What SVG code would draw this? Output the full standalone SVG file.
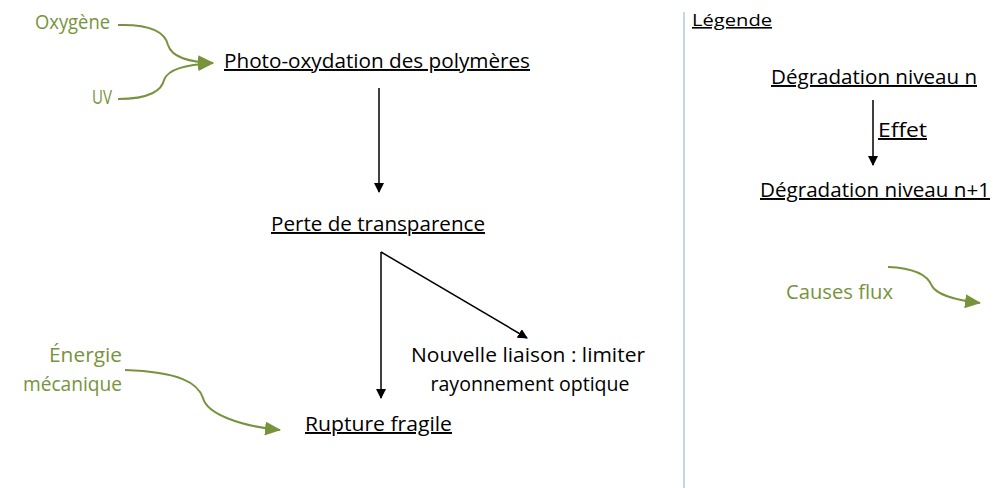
<svg xmlns="http://www.w3.org/2000/svg" width="1001" height="488" viewBox="0 0 1001 488">
<style>
text{font-family:"Open Sans","Liberation Sans",sans-serif;font-size:19.5px;}
.n{fill:#000;text-decoration:underline;}
.g{fill:#77933c;}
.p{fill:#000;}
.k{stroke:#000;stroke-width:1.5;fill:none;marker-end:url(#ak);}
.c{stroke:#77933c;stroke-width:2;fill:none;marker-end:url(#ag);}
</style>
<defs>
<marker id="ak" markerWidth="10" markerHeight="10" refX="9" refY="5" orient="auto" markerUnits="userSpaceOnUse"><path d="M0,0 L10,5 L0,10 Z" fill="#000"/></marker>
<marker id="ag" markerWidth="16" markerHeight="14" refX="15" refY="7" orient="auto" markerUnits="userSpaceOnUse"><path d="M0,0 L16,7 L0,14 Z" fill="#77933c"/></marker>
</defs>
<rect width="1001" height="488" fill="#fff"/>
<line x1="684" y1="12" x2="684" y2="488" stroke="#c6d6ea" stroke-width="2"/>
<g id="connectors">
<path class="c" d="M118,25 C150,24 165,32 168,45 C172,58 190,62 213,63"/>
<path class="c" d="M118,99 C150,99 162,90 164,80 C168,69 185,65 213,63"/>
<line class="k" x1="379" y1="88" x2="379" y2="192"/>
<line class="k" x1="381" y1="252" x2="381" y2="398"/>
<line class="k" x1="381" y1="252" x2="527" y2="338"/>
<path class="c" d="M125,370 C180,372 198,383 203,398 C207,414 240,426 280,430"/>
<line class="k" x1="873" y1="100" x2="873" y2="165"/>
<path class="c" d="M888,267 C915,268 928,276 932,286 C936,294 955,300 980,303"/>
</g>
<g id="oxygene"><text class="g" x="110" y="29" text-anchor="end" textLength="75" lengthAdjust="spacingAndGlyphs">Oxygène</text></g>
<g id="uv"><text class="g" x="112" y="104" text-anchor="end" textLength="20" lengthAdjust="spacingAndGlyphs">UV</text></g>
<g id="photo"><text class="n" x="224" y="68" textLength="306" lengthAdjust="spacingAndGlyphs">Photo-oxydation des polymères</text></g>
<g id="perte"><text class="n" x="271" y="231" textLength="214" lengthAdjust="spacingAndGlyphs">Perte de transparence</text></g>
<g id="nouvelle"><text class="p" x="528" y="362" text-anchor="middle" textLength="234" lengthAdjust="spacingAndGlyphs">Nouvelle liaison : limiter</text><text class="p" x="530" y="391" text-anchor="middle" textLength="199" lengthAdjust="spacingAndGlyphs">rayonnement optique</text></g>
<g id="rupture"><text class="n" x="305" y="431" textLength="147" lengthAdjust="spacingAndGlyphs">Rupture fragile</text></g>
<g id="energie"><text class="g" x="122" y="362" text-anchor="end" textLength="73" lengthAdjust="spacingAndGlyphs">Énergie</text><text class="g" x="122" y="391" text-anchor="end" textLength="99" lengthAdjust="spacingAndGlyphs">mécanique</text></g>
<g id="legende"><text class="n" x="692" y="26" style="font-size:16px" textLength="80" lengthAdjust="spacingAndGlyphs">Légende</text></g>
<g id="niv-n"><text class="n" x="771" y="84" textLength="206" lengthAdjust="spacingAndGlyphs">Dégradation niveau n</text></g>
<g id="effet"><text class="n" x="878" y="137" textLength="49" lengthAdjust="spacingAndGlyphs">Effet</text></g>
<g id="niv-n1"><text class="n" x="760" y="197" textLength="230" lengthAdjust="spacingAndGlyphs">Dégradation niveau n+1</text></g>
<g id="causes"><text class="g" x="786" y="299" textLength="107" lengthAdjust="spacingAndGlyphs">Causes flux</text></g>
</svg>
